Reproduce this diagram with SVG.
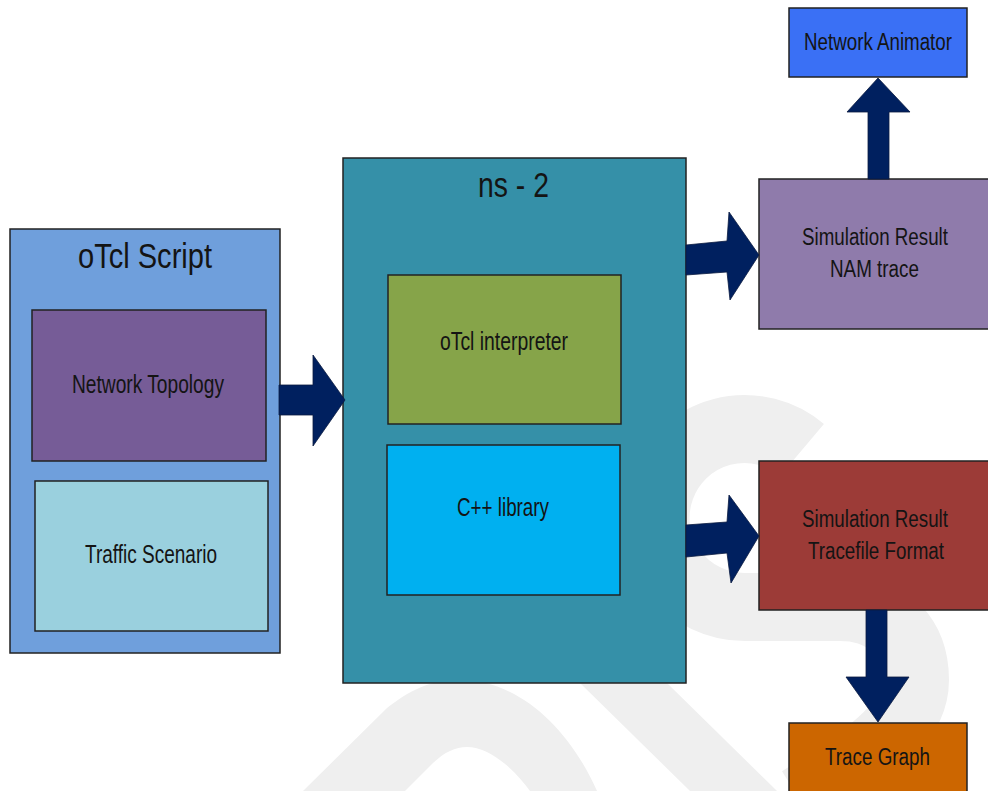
<svg xmlns="http://www.w3.org/2000/svg" width="988" height="791" viewBox="0 0 988 791">
<style>
  .box { stroke: #222; stroke-width: 1.5; }
  .t { font-family: "Liberation Sans", Arial, sans-serif; fill: #141414; font-size: 25px; }
  .r { font-size: 23px; }
  .title { font-size: 35px; }
  .arrow { fill: #00205f; stroke: #0a1a40; stroke-width: 0.8; }
  .wm { fill: #efefef; }
</style>
<rect width="988" height="791" fill="#ffffff"/>
<g id="watermark">
  <path class="wm" fill-rule="evenodd" d="M303,791 L387,708 C410,690 430,680 460,680 C520,680 570,730 597,791 Z M405,791 L433,763 C445,752 455,747 467,747 C490,747 515,770 530,791 Z"/>
  <polygon class="wm" points="580,683 667,683 777,791 690,791"/>
  <path d="M802,450 A89,89 0 1,0 745,607 L840,607 C890,607 915,640 915,680 C915,720 880,750 800,800" fill="none" stroke="#efefef" stroke-width="68"/>
</g>
<g id="otcl-script">
  <rect class="box" x="10" y="229" width="270" height="424" fill="#6f9fdc"/>
  <text class="t title" x="78" y="268" textLength="134" lengthAdjust="spacingAndGlyphs">oTcl Script</text>
</g>
<g id="network-topology">
  <rect class="box" x="32" y="310" width="234" height="151" fill="#765c97"/>
  <text class="t" x="72" y="393" textLength="152" lengthAdjust="spacingAndGlyphs">Network Topology</text>
</g>
<g id="traffic-scenario">
  <rect class="box" x="35" y="481" width="233" height="150" fill="#9ad0de"/>
  <text class="t" x="85" y="563" textLength="132" lengthAdjust="spacingAndGlyphs">Traffic Scenario</text>
</g>
<g id="ns2">
  <rect class="box" x="343" y="158" width="343" height="525" fill="#3590a8"/>
  <text class="t title" x="478" y="197" textLength="71" lengthAdjust="spacingAndGlyphs">ns - 2</text>
</g>
<g id="otcl-interpreter">
  <rect class="box" x="388" y="275" width="233" height="149" fill="#86a449"/>
  <text class="t" x="440" y="350" textLength="128" lengthAdjust="spacingAndGlyphs">oTcl interpreter</text>
</g>
<g id="cpp-library">
  <rect class="box" x="387" y="445" width="233" height="150" fill="#00b0f0"/>
  <text class="t" x="457" y="516" textLength="92" lengthAdjust="spacingAndGlyphs">C++ library</text>
</g>
<g id="network-animator">
  <rect class="box" x="789" y="8" width="178" height="69" fill="#3a70f5"/>
  <text class="t r" x="804" y="50" textLength="148" lengthAdjust="spacingAndGlyphs">Network Animator</text>
</g>
<g id="nam-trace">
  <rect class="box" x="759" y="179" width="232" height="150" fill="#8f7bab"/>
  <text class="t r" x="802" y="245" textLength="146" lengthAdjust="spacingAndGlyphs">Simulation Result</text>
  <text class="t r" x="830" y="277" textLength="89" lengthAdjust="spacingAndGlyphs">NAM trace</text>
</g>
<g id="tracefile">
  <rect class="box" x="759" y="461" width="232" height="149" fill="#9c3b37"/>
  <text class="t r" x="802" y="527" textLength="146" lengthAdjust="spacingAndGlyphs">Simulation Result</text>
  <text class="t r" x="808" y="559" textLength="136" lengthAdjust="spacingAndGlyphs">Tracefile Format</text>
</g>
<g id="trace-graph">
  <rect class="box" x="789" y="723" width="178" height="72" fill="#cc6600"/>
  <text class="t r" x="825" y="765" textLength="105" lengthAdjust="spacingAndGlyphs">Trace Graph</text>
</g>
<g id="connectors">
  <polygon class="arrow" points="279,385 313,385 313,355 345,400 313,446 313,415 279,415"/>
  <polygon class="arrow" points="686,245 727,241 729,212 759,255 730,300 727,272 686,275"/>
  <polygon class="arrow" points="868,179 868,112 847,112 878,78 910,112 889,112 889,179"/>
  <polygon class="arrow" points="686,525 727,522 729,495 759,536 731,583 727,553 686,557"/>
  <polygon class="arrow" points="866,610 866,677 846,677 878,722 909,677 887,677 887,610"/>
</g>
</svg>
